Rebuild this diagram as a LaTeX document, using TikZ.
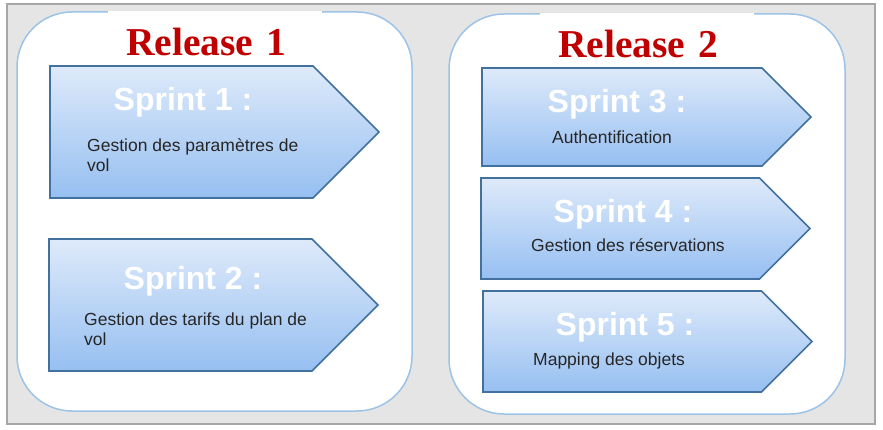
\documentclass[tikz,border=0pt]{standalone}
\usepackage{fontspec}
\setmainfont{Liberation Serif}
\setsansfont{Liberation Sans}
\usetikzlibrary{shapes.symbols}

\definecolor{bgGray}{HTML}{E5E5E5}
\definecolor{frameGray}{HTML}{A6A6A6}
\definecolor{relBlue}{HTML}{9DC3E6}
\definecolor{sprintBlue}{HTML}{41719C}
\definecolor{sprintTop}{HTML}{DEEAFA}
\definecolor{sprintBot}{HTML}{96BFF1}
\definecolor{titleRed}{HTML}{C00000}
\definecolor{descGray}{HTML}{262626}

\begin{document}
\begin{tikzpicture}[x=1pt,y=-1pt]
\tikzstyle{frame}=[rectangle,fill=bgGray,draw=frameGray,line width=1.5pt,inner sep=0pt]
\tikzstyle{release}=[rectangle,fill=white,draw=relBlue,line width=1.5pt,rounded corners=55pt,inner sep=0pt]
\tikzstyle{reltitle}=[fill=white,text=titleRed,font=\bfseries\fontsize{39.5}{40}\selectfont,inner xsep=18pt,inner ysep=0pt,text width=178pt,align=left,minimum height=62pt]
\tikzstyle{sprint}=[signal,signal to=east,signal pointer angle=90,draw=sprintBlue,line width=1.6pt,top color=sprintTop,bottom color=sprintBot,inner sep=0pt,minimum width=329pt]
\tikzstyle{stitle}=[text=white,font=\sffamily\bfseries\fontsize{32}{34}\selectfont,anchor=base,inner sep=0pt]
\tikzstyle{desc}=[text=descGray,font=\sffamily\fontsize{17.5}{20}\selectfont,anchor=base west,align=left,inner sep=0pt]

\useasboundingbox (0,0) rectangle (883,430);
\node[frame,minimum width=868pt,minimum height=420pt] (bg) at (441,214) {};

% releases
\node[release,minimum width=395pt,minimum height=399pt] (rel1) at (214.5,211.5) {};
\node[release,minimum width=396pt,minimum height=400pt] (rel2) at (647,214) {};
\node[reltitle] (rel1title) at (215,42) {Release 1};
\node[reltitle] (rel2title) at (647,44) {Release 2};

% release 1
\node[sprint,minimum height=132pt] (s1) at (181.5,132) {};
\node[stitle] (s1title) at (183,111) {Sprint 1 :};
\node[desc] (s1desc) at (87,172) {Gestion des paramètres de\\vol};

\node[sprint,minimum height=132pt] (s2) at (180.5,305) {};
\node[stitle] (s2title) at (193,289) {Sprint 2 :};
\node[desc] (s2desc) at (84,345) {Gestion des tarifs du plan de\\vol};

% release 2
\node[sprint,minimum height=98pt] (s3) at (622,117) {};
\node[stitle] (s3title) at (617,113) {Sprint 3 :};
\node[desc] (s3desc) at (552,144) {Authentification};

\node[sprint,minimum height=101pt] (s4) at (620.25,228.5) {};
\node[stitle] (s4title) at (623,223) {Sprint 4 :};
\node[desc] (s4desc) at (531,252) {Gestion des réservations};

\node[sprint,minimum height=101pt] (s5) at (622.25,341.5) {};
\node[stitle] (s5title) at (625,335) {Sprint 5 :};
\node[desc] (s5desc) at (533,365) {Mapping des objets};

\end{tikzpicture}
\end{document}
